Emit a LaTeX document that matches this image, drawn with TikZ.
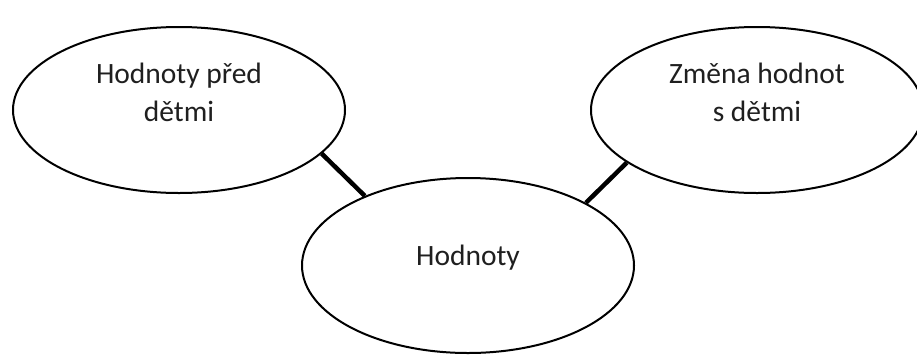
\documentclass[tikz,border=0pt]{standalone}
\usepackage{fontspec}
\setmainfont{Carlito}
\usetikzlibrary{shapes.geometric}

\tikzset{
  bubble/.style={ellipse, draw=black, line width=2pt, fill=white, inner sep=0pt},
  sidebubble/.style={bubble, minimum width=332pt, minimum height=166pt},
  hubbubble/.style={bubble, minimum width=332pt, minimum height=175pt},
  label/.style={inner sep=0pt, anchor=base, text=black!88,
    font=\fontsize{29.5}{38}\selectfont},
  link/.style={line width=4.5pt, draw=black}
}
\newcommand{\twolines}[2]{\begin{tabular}[t]{@{}c@{}}#1\\#2\end{tabular}}

\begin{document}
\begin{tikzpicture}[x=1pt, y=-1pt]
  \useasboundingbox (0,0) rectangle (917,354);

  % the three bubbles
  \node[sidebubble] (before) at (179,110) {};
  \node[sidebubble] (change) at (757,110) {};
  \node[hubbubble]  (values) at (468,265.5) {};

  % links from the side bubbles to the central one
  \draw[link] (before.-17)  -- (values.146);
  \draw[link] (change.202.6) -- (values.28.3);

  % texts
  \node[label] (beforetext) at (179,83) {\twolines{Hodnoty před}{dětmi}};
  \node[label] (changetext) at (757,83) {\twolines{Změna hodnot}{s dětmi}};
  \node[label] (valuestext) at (468,265) {Hodnoty};
\end{tikzpicture}
\end{document}
